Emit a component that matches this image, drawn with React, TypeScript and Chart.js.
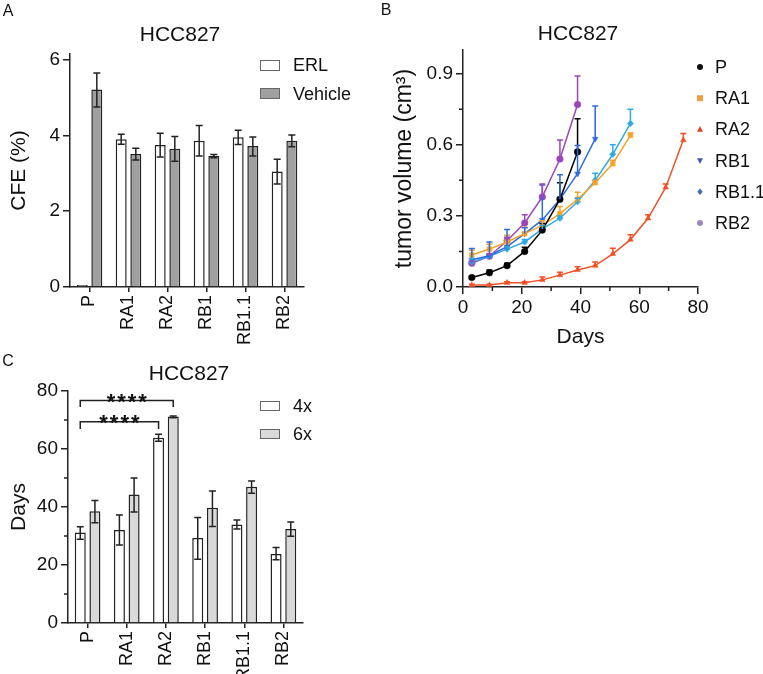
import React, { useEffect, useRef } from "react";
import { Chart, registerables } from "chart.js";

Chart.register(...registerables);

const FONT = "'Liberation Sans', Arial, Helvetica, sans-serif";
const INK = "#222222";
const TEXT = "#111111";

// ---------------- Panel A: colony forming efficiency ----------------
const cfeCategories = ["P", "RA1", "RA2", "RB1", "RB1.1", "RB2"];
const cfeErlMean = [0.02, 3.9, 3.75, 3.86, 3.95, 3.05];
const cfeErlLow = [0.02, 3.77, 3.43, 3.46, 3.76, 2.72];
const cfeErlHigh = [0.02, 4.03, 4.06, 4.26, 4.14, 3.37];
const cfeVehMean = [5.21, 3.51, 3.65, 3.46, 3.72, 3.86];
const cfeVehLow = [4.75, 3.35, 3.32, 3.41, 3.46, 3.7];
const cfeVehHigh = [5.65, 3.66, 3.97, 3.5, 3.96, 4.01];
const cfeTicks = [0, 2, 4, 6];

// ---------------- Panel B: tumor volume ----------------
const daysP = [3, 9, 15, 21, 27, 33, 39];
const volP = [0.04, 0.06, 0.09, 0.15, 0.24, 0.37, 0.57];
const errP = [0.045, 0.072, 0.1, 0.168, 0.268, 0.44, 0.71];

const daysRA1 = [3, 9, 15, 21, 27, 33, 39, 45, 51, 57];
const volRA1 = [0.135, 0.16, 0.19, 0.225, 0.26, 0.31, 0.37, 0.44, 0.52, 0.64];
const errRA1 = [0.155, 0.18, 0.218, 0.252, 0.28, 0.34, 0.4, 0.45, 0.535, 0.65];

const daysRA2 = [3, 9, 15, 21, 27, 33, 39, 45, 51, 57, 63, 69, 75];
const volRA2 = [0.008, 0.008, 0.018, 0.018, 0.03, 0.05, 0.072, 0.09, 0.14, 0.2, 0.29, 0.42, 0.62];
const errRA2 = [0.012, 0.012, 0.022, 0.022, 0.042, 0.062, 0.085, 0.105, 0.163, 0.22, 0.305, 0.435, 0.648];

const daysRB1 = [3, 9, 15, 21, 27, 33, 39, 45];
const volRB1 = [0.115, 0.132, 0.17, 0.225, 0.283, 0.37, 0.478, 0.625];
const errRB1 = [0.162, 0.19, 0.243, 0.25, 0.43, 0.474, 0.597, 0.764];

const daysRB11 = [3, 9, 15, 21, 27, 33, 39, 45, 51, 57];
const volRB11 = [0.105, 0.13, 0.16, 0.19, 0.245, 0.29, 0.36, 0.45, 0.56, 0.69];
const errRB11 = [0.12, 0.14, 0.17, 0.2, 0.26, 0.3, 0.375, 0.48, 0.6, 0.75];

const daysRB2 = [3, 9, 15, 21, 27, 33, 39];
const volRB2 = [0.1, 0.13, 0.195, 0.27, 0.38, 0.54, 0.77];
const errRB2 = [0.11, 0.14, 0.21, 0.305, 0.435, 0.62, 0.89];

const volumeTicks = [0, 0.3, 0.6, 0.9];
const volumeMinor = [0.15, 0.45, 0.75];
const dayTicks = [0, 20, 40, 60, 80];
const dayMinor = [10, 30, 50, 70];

const tumorSeries = [
  { label: "P", days: daysP, vol: volP, err: errP, color: "#000000", legend: "#111111", style: "circle" },
  { label: "RA1", days: daysRA1, vol: volRA1, err: errRA1, color: "#f5a327", legend: "#f0a040", style: "rect" },
  { label: "RA2", days: daysRA2, vol: volRA2, err: errRA2, color: "#ef5126", legend: "#e0402c", style: "triangle" },
  { label: "RB1", days: daysRB1, vol: volRB1, err: errRB1, color: "#2c6be0", legend: "#3a5cb0", style: "triangleDown" },
  { label: "RB1.1", days: daysRB11, vol: volRB11, err: errRB11, color: "#2fa9e6", legend: "#3e6cb0", style: "diamond" },
  { label: "RB2", days: daysRB2, vol: volRB2, err: errRB2, color: "#9c44b8", legend: "#9b88c4", style: "circle" },
];

// ---------------- Panel C: days to relapse ----------------
const relapseCategories = ["P", "RA1", "RA2", "RB1", "RB1.1", "RB2"];
const days4xMean = [31.2, 32.1, 63.9, 29.3, 34.0, 23.8];
const days4xLow = [28.9, 26.9, 62.7, 22.0, 32.4, 21.8];
const days4xHigh = [33.2, 37.2, 65.1, 36.4, 35.5, 26.0];
const days6xMean = [38.5, 44.3, 71.2, 39.7, 47.0, 32.4];
const days6xLow = [34.6, 38.3, 70.8, 33.3, 44.7, 29.9];
const days6xHigh = [42.2, 50.0, 71.4, 45.5, 49.0, 34.8];
const relapseTicks = [0, 20, 40, 60, 80];
const relapseMinor = [10, 30, 50, 70];
const sigLabel = "****";
const sigUpperLevel = [76.7, 74.5];
const sigLowerLevel = [69.4, 66.9];

// ---------------- plugins ----------------
const barErrorPlugin = {
  id: "barErrors",
  afterDatasetsDraw(chart: any) {
    const ctx = chart.ctx;
    const ys = chart.scales.y;
    chart.data.datasets.forEach((ds: any, di: number) => {
      if (!ds.errLow) return;
      const meta = chart.getDatasetMeta(di);
      meta.data.forEach((el: any, i: number) => {
        const lo = ds.errLow[i];
        const hi = ds.errHigh[i];
        if (lo === hi) return;
        const x = el.x;
        const y1 = ys.getPixelForValue(lo);
        const y2 = ys.getPixelForValue(hi);
        ctx.save();
        ctx.strokeStyle = INK;
        ctx.lineWidth = 1.5;
        ctx.beginPath();
        ctx.moveTo(x, y1);
        ctx.lineTo(x, y2);
        ctx.moveTo(x - 3.5, y1);
        ctx.lineTo(x + 3.5, y1);
        ctx.moveTo(x - 3.5, y2);
        ctx.lineTo(x + 3.5, y2);
        ctx.stroke();
        ctx.restore();
      });
    });
  },
};

const lineErrorPlugin = {
  id: "lineErrors",
  afterDatasetsDraw(chart: any) {
    const ctx = chart.ctx;
    const ys = chart.scales.y;
    chart.data.datasets.forEach((ds: any, di: number) => {
      if (!ds.errHigh) return;
      const meta = chart.getDatasetMeta(di);
      meta.data.forEach((el: any, i: number) => {
        const x = el.x;
        const y1 = el.y;
        const y2 = ys.getPixelForValue(ds.errHigh[i]);
        ctx.save();
        ctx.strokeStyle = ds.borderColor;
        ctx.lineWidth = 1.5;
        ctx.beginPath();
        ctx.moveTo(x, y1);
        ctx.lineTo(x, y2);
        ctx.moveTo(x - 3, y2);
        ctx.lineTo(x + 3, y2);
        ctx.stroke();
        ctx.restore();
      });
    });
  },
};

const minorTickPlugin = {
  id: "minorTicks",
  afterDraw(chart: any, _args: any, opts: any) {
    if (!opts) return;
    const ctx = chart.ctx;
    const area = chart.chartArea;
    const len = opts.length || 4;
    ctx.save();
    ctx.strokeStyle = INK;
    ctx.lineWidth = 1.5;
    ctx.beginPath();
    (opts.y || []).forEach((v: number) => {
      const p = chart.scales.y.getPixelForValue(v);
      ctx.moveTo(area.left - len, p);
      ctx.lineTo(area.left, p);
    });
    (opts.x || []).forEach((v: number) => {
      const p = chart.scales.x.getPixelForValue(v);
      ctx.moveTo(p, area.bottom);
      ctx.lineTo(p, area.bottom + len);
    });
    ctx.stroke();
    ctx.restore();
  },
};

const bracketPlugin = {
  id: "sigBrackets",
  afterDraw(chart: any, _args: any, opts: any) {
    if (!opts || !opts.items) return;
    const ctx = chart.ctx;
    const ys = chart.scales.y;
    opts.items.forEach((b: any) => {
      const xa = chart.getDatasetMeta(b.fromDs).data[b.fromIdx].x;
      const xb = chart.getDatasetMeta(b.toDs).data[b.toIdx].x;
      const yl = ys.getPixelForValue(b.level[0]);
      const yd = ys.getPixelForValue(b.level[1]);
      ctx.save();
      ctx.strokeStyle = INK;
      ctx.lineWidth = 1.5;
      ctx.beginPath();
      ctx.moveTo(xa, yd);
      ctx.lineTo(xa, yl);
      ctx.lineTo(xb, yl);
      ctx.lineTo(xb, yd);
      ctx.stroke();
      ctx.fillStyle = TEXT;
      ctx.font = `bold 22px ${FONT}`;
      try {
        (ctx as any).letterSpacing = "2px";
      } catch (e) {}
      ctx.textAlign = "center";
      ctx.textBaseline = "alphabetic";
      ctx.fillText(b.label, (xa + xb) / 2 + 1, yl + 8);
      ctx.restore();
    });
  },
};

function drawMarker(ctx: any, style: string, x: number, y: number, r: number, color: string) {
  ctx.fillStyle = color;
  ctx.beginPath();
  if (style === "circle") {
    ctx.arc(x, y, r, 0, Math.PI * 2);
  } else if (style === "rect") {
    ctx.rect(x - r, y - r, 2 * r, 2 * r);
  } else if (style === "triangle") {
    ctx.moveTo(x, y - r * 1.1);
    ctx.lineTo(x + r, y + r * 0.75);
    ctx.lineTo(x - r, y + r * 0.75);
    ctx.closePath();
  } else if (style === "triangleDown") {
    ctx.moveTo(x, y + r * 1.1);
    ctx.lineTo(x + r, y - r * 0.75);
    ctx.lineTo(x - r, y - r * 0.75);
    ctx.closePath();
  } else {
    ctx.moveTo(x, y - r * 1.1);
    ctx.lineTo(x + r * 0.9, y);
    ctx.lineTo(x, y + r * 1.1);
    ctx.lineTo(x - r * 0.9, y);
    ctx.closePath();
  }
  ctx.fill();
}

const markerLegendPlugin = {
  id: "markerLegend",
  afterDraw(chart: any, _args: any, opts: any) {
    if (!opts || !opts.items) return;
    const ctx = chart.ctx;
    ctx.save();
    opts.items.forEach((it: any, i: number) => {
      const y = opts.y0 + i * opts.dy;
      drawMarker(ctx, it.style, opts.x, y, 3, it.color);
      ctx.fillStyle = TEXT;
      ctx.font = `${opts.size}px ${FONT}`;
      ctx.textAlign = "left";
      ctx.textBaseline = "middle";
      ctx.fillText(it.label, opts.textX, y + 1);
    });
    ctx.restore();
  },
};

const tickFont = { family: FONT, size: 19 };

function barChart(canvas: HTMLCanvasElement, p: any) {
  return new Chart(canvas, {
    type: "bar",
    data: {
      labels: p.labels,
      datasets: p.datasets.map((d: any) => ({
        label: d.label,
        data: d.mean,
        errLow: d.low,
        errHigh: d.high,
        backgroundColor: d.fill,
        borderColor: INK,
        borderWidth: 1.5,
        borderSkipped: "start",
        minBarLength: 2,
        categoryPercentage: 0.75,
        barPercentage: 0.75,
      })),
    },
    options: {
      responsive: false,
      animation: false,
      devicePixelRatio: 1,
      layout: { padding: { left: 0, top: p.T, right: p.W - p.R, bottom: 0 } },
      plugins: {
        legend: { display: false },
        title: { display: false },
        tooltip: { enabled: false },
        minorTicks: { y: p.yMinor || [], length: 4 },
        sigBrackets: { items: p.brackets || null },
      },
      scales: {
        x: {
          type: "category",
          offset: true,
          grid: { display: true, drawOnChartArea: false, drawTicks: true, tickLength: 5, offset: false, color: INK, lineWidth: 1.5 },
          border: { display: true, color: INK, width: 1.5 },
          ticks: { font: { family: FONT, size: 18 }, color: TEXT, minRotation: 90, maxRotation: 90, autoSkip: false, padding: 3 },
          afterFit: (s: any) => {
            s.height = p.H - p.B;
          },
        },
        y: {
          type: "linear",
          min: 0,
          max: p.yMax,
          afterBuildTicks: (s: any) => {
            s.ticks = p.yTicks.map((v: number) => ({ value: v }));
          },
          grid: { display: true, drawOnChartArea: false, drawTicks: true, tickLength: 7, color: INK, lineWidth: 1.5 },
          border: { display: true, color: INK, width: 1.5 },
          ticks: { font: tickFont, color: TEXT, padding: 3 },
          title: { display: true, text: p.yTitle, color: TEXT, font: { family: FONT, size: 21 }, padding: { top: p.yTitlePad, bottom: 0 } },
          afterFit: (s: any) => {
            s.width = p.L;
          },
        },
      },
    } as any,
    plugins: [barErrorPlugin, minorTickPlugin, bracketPlugin],
  } as any);
}

function lineChart(canvas: HTMLCanvasElement) {
  const W = 383,
    H = 360,
    L = 83,
    R = 318,
    T = 50,
    B = 287;
  return new Chart(canvas, {
    type: "line",
    data: {
      datasets: tumorSeries.map((s) => ({
        label: s.label,
        data: s.days.map((d, i) => ({ x: d, y: s.vol[i] })),
        errHigh: s.err,
        borderColor: s.color,
        backgroundColor: s.color,
        pointBackgroundColor: s.color,
        pointBorderColor: s.color,
        borderWidth: 1.5,
        pointBorderWidth: 0.5,
        pointRadius: s.style === "diamond" ? 3.2 : 3.3,
        pointStyle: s.style === "diamond" ? "rectRot" : s.style === "triangleDown" ? "triangle" : s.style,
        pointRotation: s.style === "triangleDown" ? 180 : 0,
        tension: 0,
        fill: false,
      })),
    },
    options: {
      responsive: false,
      animation: false,
      devicePixelRatio: 1,
      layout: { padding: { left: 0, top: T, right: W - R, bottom: 0 } },
      plugins: {
        legend: { display: false },
        title: { display: false },
        tooltip: { enabled: false },
        minorTicks: { x: dayMinor, y: volumeMinor, length: 4 },
        markerLegend: {
          items: tumorSeries.map((s) => ({ label: s.label, color: s.legend, style: s.style })),
          x: 320,
          textX: 335,
          y0: 67,
          dy: 31.2,
          size: 18,
        },
      },
      scales: {
        x: {
          type: "linear",
          min: 0,
          max: 80,
          afterBuildTicks: (s: any) => {
            s.ticks = dayTicks.map((v) => ({ value: v }));
          },
          grid: { display: true, drawOnChartArea: false, drawTicks: true, tickLength: 7, color: INK, lineWidth: 1.5 },
          border: { display: true, color: INK, width: 1.5 },
          ticks: { font: tickFont, color: TEXT, padding: 2, maxRotation: 0, callback: (v: any) => String(v) },
          title: { display: true, text: "Days", color: TEXT, font: { family: FONT, size: 21 }, padding: { top: 0, bottom: 10 } },
          afterFit: (s: any) => {
            s.height = H - B;
          },
        },
        y: {
          type: "linear",
          min: 0,
          max: 1.0,
          afterBuildTicks: (s: any) => {
            s.ticks = volumeTicks.map((v) => ({ value: v }));
          },
          grid: { display: true, drawOnChartArea: false, drawTicks: true, tickLength: 7, color: INK, lineWidth: 1.5 },
          border: { display: true, color: INK, width: 1.5 },
          ticks: { font: tickFont, color: TEXT, padding: 3, callback: (v: any) => Number(v).toFixed(1) },
          title: { display: true, text: "tumor volume (cm³)", color: TEXT, font: { family: FONT, size: 23 }, padding: { top: 11, bottom: 0 } },
          afterFit: (s: any) => {
            s.width = L;
          },
        },
      },
    } as any,
    plugins: [lineErrorPlugin, minorTickPlugin, markerLegendPlugin],
  } as any);
}

function ChartCanvas(props: { left: number; top: number; width: number; height: number; build: (c: HTMLCanvasElement) => Chart }) {
  const ref = useRef<HTMLCanvasElement>(null);
  useEffect(() => {
    const chart = props.build(ref.current as HTMLCanvasElement);
    return () => chart.destroy();
  }, []);
  return (
    <canvas
      ref={ref}
      width={props.width}
      height={props.height}
      style={{ position: "absolute", left: props.left, top: props.top, width: props.width, height: props.height }}
    />
  );
}

function Label(props: { x: number; y: number; size: number; text: string }) {
  return (
    <div
      style={{
        position: "absolute",
        left: props.x,
        top: props.y,
        transform: "translate(-50%, -50%)",
        fontSize: props.size,
        lineHeight: `${props.size}px`,
        whiteSpace: "nowrap",
        color: TEXT,
      }}
    >
      {props.text}
    </div>
  );
}

function LegendBox(props: { x: number; y: number; fill: string; text: string }) {
  return (
    <>
      <div
        style={{
          position: "absolute",
          left: props.x,
          top: props.y - 5.3,
          width: 20,
          height: 10.6,
          boxSizing: "border-box",
          border: "1.5px solid #666",
          background: props.fill,
        }}
      />
      <div
        style={{
          position: "absolute",
          left: props.x + 33,
          top: props.y,
          transform: "translateY(-50%)",
          fontSize: 18,
          lineHeight: "18px",
          whiteSpace: "nowrap",
          color: TEXT,
        }}
      >
        {props.text}
      </div>
    </>
  );
}

export default function App() {
  const buildA = (c: HTMLCanvasElement) =>
    barChart(c, {
      W: 380,
      H: 350,
      L: 70,
      R: 304,
      T: 54,
      B: 287,
      labels: cfeCategories,
      yMax: 6.15,
      yTicks: cfeTicks,
      yTitle: "CFE (%)",
      yTitlePad: 7,
      datasets: [
        { label: "ERL", mean: cfeErlMean, low: cfeErlLow, high: cfeErlHigh, fill: "#ffffff" },
        { label: "Vehicle", mean: cfeVehMean, low: cfeVehLow, high: cfeVehHigh, fill: "#a0a0a0" },
      ],
    });
  const buildC = (c: HTMLCanvasElement) =>
    barChart(c, {
      W: 380,
      H: 344,
      L: 68,
      R: 303,
      T: 61,
      B: 293,
      labels: relapseCategories,
      yMax: 80,
      yTicks: relapseTicks,
      yMinor: relapseMinor,
      yTitle: "Days",
      yTitlePad: 7,
      datasets: [
        { label: "4x", mean: days4xMean, low: days4xLow, high: days4xHigh, fill: "#ffffff" },
        { label: "6x", mean: days6xMean, low: days6xLow, high: days6xHigh, fill: "#d9d9d9" },
      ],
      brackets: [
        { fromDs: 0, fromIdx: 0, toDs: 1, toIdx: 2, level: sigUpperLevel, label: sigLabel },
        { fromDs: 0, fromIdx: 0, toDs: 0, toIdx: 2, level: sigLowerLevel, label: sigLabel },
      ],
    });
  return (
    <div
      style={{
        position: "absolute",
        left: 0,
        top: 0,
        width: 763,
        height: 674,
        overflow: "hidden",
        background: "#ffffff",
        fontFamily: FONT,
      }}
    >
      <ChartCanvas left={0} top={0} width={380} height={350} build={buildA} />
      <ChartCanvas left={380} top={0} width={383} height={360} build={lineChart} />
      <ChartCanvas left={0} top={330} width={380} height={344} build={buildC} />
      <Label x={8} y={11} size={16} text="A" />
      <Label x={386} y={10} size={16} text="B" />
      <Label x={8} y={361} size={16} text="C" />
      <Label x={180} y={33} size={21} text="HCC827" />
      <Label x={578} y={32} size={21} text="HCC827" />
      <Label x={189} y={372} size={21} text="HCC827" />
      <LegendBox x={260} y={65.3} fill="#ffffff" text="ERL" />
      <LegendBox x={260} y={93.5} fill="#a0a0a0" text="Vehicle" />
      <LegendBox x={260} y={406} fill="#ffffff" text="4x" />
      <LegendBox x={260} y={434} fill="#d9d9d9" text="6x" />
    </div>
  );
}
